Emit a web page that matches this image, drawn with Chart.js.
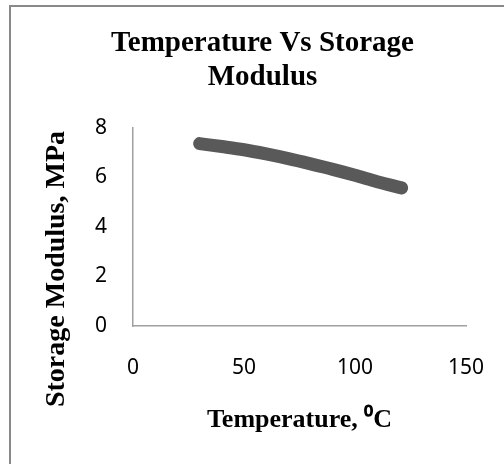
<!DOCTYPE html>
<html>
<head>
<meta charset="utf-8">
<script src="https://cdn.jsdelivr.net/npm/chart.js@4/dist/chart.umd.min.js"></script>
<style>
  html, body { margin: 0; padding: 0; background: #fff; }
  #wrap { position: relative; width: 504px; height: 464px; overflow: hidden; }
  #frame { position: absolute; left: 9px; top: 5px; width: 600px; height: 600px; border: 2px solid #898989; }
  #chart { position: absolute; left: 0; top: 0; }
</style>
</head>
<body>
<div id="wrap">
  <div id="frame"></div>
  <canvas id="chart" width="504" height="464"></canvas>
</div>
<script>
// values
const temperature = [30, 40, 50, 60, 70, 80, 90, 100, 110, 121];
const storageModulus = [7.37, 7.25, 7.12, 6.95, 6.76, 6.55, 6.33, 6.09, 5.83, 5.58];
const xTicks = [0, 50, 100, 150];
const yTicks = [0, 2, 4, 6, 8];
const chartTitle = ['Temperature Vs Storage', 'Modulus'];
const xTitle = 'Temperature, \u2070C';
const yTitle = 'Storage Modulus, MPa';

const serif = '"Liberation Serif", "Times New Roman", serif';
const sans = '"Noto Sans", "Open Sans", sans-serif';

// y axis title sits lower than the plot centre in the original, so draw it by hand
const yTitlePlugin = {
  id: 'yTitle',
  afterDraw(chart) {
    const ctx = chart.ctx;
    ctx.save();
    ctx.translate(57, 269);
    ctx.rotate(-Math.PI / 2);
    ctx.font = 'bold 28px ' + serif;
    ctx.fillStyle = '#000';
    ctx.textAlign = 'center';
    ctx.textBaseline = 'middle';
    ctx.fillText(yTitle, 0, 0);
    ctx.restore();
  }
};

new Chart(document.getElementById('chart'), {
  type: 'scatter',
  data: {
    datasets: [{
      data: temperature.map((t, i) => ({ x: t, y: storageModulus[i] })),
      showLine: true,
      borderColor: '#595959',
      borderWidth: 13,
      borderCapStyle: 'round',
      borderJoinStyle: 'round',
      cubicInterpolationMode: 'monotone',
      pointRadius: 0,
      pointHoverRadius: 0,
      fill: false
    }]
  },
  options: {
    responsive: false,
    animation: false,
    layout: { padding: { left: 59, right: 38, top: 0, bottom: 0 } },
    plugins: {
      legend: { display: false },
      tooltip: { enabled: false },
      title: {
        display: true,
        text: chartTitle,
        color: '#000',
        font: { family: serif, size: 29, weight: 'bold', lineHeight: 34 / 29 },
        padding: { top: 26.5, bottom: 33.5 }
      }
    },
    scales: {
      x: {
        type: 'linear',
        min: 0,
        max: 150,
        afterBuildTicks: s => { s.ticks = xTicks.map(v => ({ value: v })); },
        afterFit: s => { s.height = 138; s.paddingLeft = 0; s.paddingRight = 0; },
        grid: { display: false, drawTicks: false },
        border: { display: true, color: '#a0a0a0', width: 1.5 },
        ticks: { color: '#000', padding: 29.4, font: { family: sans, size: 21 } },
        title: {
          display: true,
          text: xTitle,
          color: '#000',
          font: { family: serif, size: 26, weight: 'bold' },
          padding: { top: 20, bottom: 28.4 }
        }
      },
      y: {
        type: 'linear',
        min: 0,
        max: 8,
        afterBuildTicks: s => { s.ticks = yTicks.map(v => ({ value: v })); },
        afterFit: s => { s.width = 74; },
        grid: { display: false, drawTicks: false },
        border: { display: true, color: '#a0a0a0', width: 1.5 },
        ticks: { color: '#000', padding: 26, font: { family: sans, size: 21 } }
      }
    }
  },
  plugins: [yTitlePlugin]
});
</script>
</body>
</html>
